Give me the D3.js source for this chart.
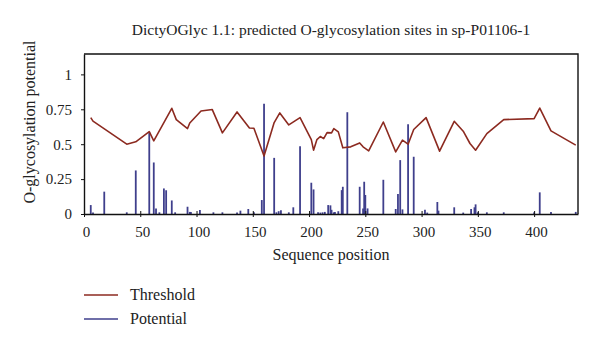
<!DOCTYPE html>
<html lang="en">
    <head>
        <meta charset="utf-8">
        <title>DictyOGlyc chart</title>
        <script type="text/javascript" src="https://cdn.jsdelivr.net/npm/d3@7/dist/d3.min.js"></script>
        <style>
            body { margin: 0; background: #fff; }
            text { font-family: 'Liberation Serif', 'DejaVu Serif', serif; fill: #222; }
        </style>
    </head>
    <body>
        <script type="text/javascript">
            // threshold curve (sequence position -> value)
            var thresholdPos = [6, 8, 38, 46, 58, 62, 78, 82, 92, 94, 104, 114, 123, 136, 147, 151, 160, 169, 174, 182,
                                192, 202, 204, 207, 210, 213, 216, 220, 222, 226, 230, 237, 245, 248, 253, 266, 277, 283,
                                288, 293, 304, 316, 329, 337, 343, 348, 358, 373, 400, 405, 415, 437];
            var thresholdVal = [0.69, 0.665, 0.50, 0.517, 0.59, 0.524, 0.757, 0.676, 0.612, 0.652, 0.738, 0.748, 0.581, 0.731, 0.616, 0.614, 0.416, 0.655, 0.724, 0.638,
                                0.69, 0.533, 0.457, 0.533, 0.555, 0.54, 0.583, 0.581, 0.612, 0.588, 0.474, 0.481, 0.509, 0.481, 0.452, 0.659, 0.445, 0.529,
                                0.50, 0.605, 0.69, 0.45, 0.664, 0.593, 0.505, 0.457, 0.576, 0.676, 0.683, 0.759, 0.595, 0.493];

            // potential bars
            var potentialPos = [6, 8, 18, 38, 46, 58, 62, 64, 67, 71, 73, 78, 81, 92, 94, 95, 103, 115, 123, 136, 139, 146, 151,
                                158, 160, 169, 171, 173, 175, 182, 186, 192, 202, 204, 208, 210, 212, 214, 217, 219, 220, 222,
                                223, 226, 229, 230, 234, 245, 248, 249, 250, 252, 266, 277, 279, 281, 283, 288, 293, 303, 305,
                                314, 315, 329, 337, 344, 347, 348, 350, 358, 373, 400, 405, 415, 437];
            var potentialVal = [0.064, 0.01, 0.16, 0.012, 0.312, 0.588, 0.369, 0.04, 0.012, 0.183, 0.17, 0.097, 0.012, 0.052, 0.015, 0.015, 0.029, 0.012, 0.012, 0.01, 0.024, 0.036, 0.012,
                                0.10, 0.79, 0.402, 0.012, 0.02, 0.026, 0.012, 0.048, 0.486, 0.224, 0.176, 0.012, 0.01, 0.012, 0.015, 0.064, 0.062, 0.03, 0.012,
                                0.015, 0.02, 0.171, 0.195, 0.729, 0.195, 0.04, 0.231, 0.136, 0.04, 0.245, 0.036, 0.143, 0.386, 0.033, 0.643, 0.41, 0.03, 0.01,
                                0.086, 0.024, 0.048, 0.01, 0.036, 0.048, 0.069, 0.012, 0.012, 0.012, 0.012, 0.155, 0.015, 0.015];

            var xTicks = [0, 50, 100, 150, 200, 250, 300, 350, 400];
            var yTicks = [0, 0.25, 0.5, 0.75, 1];
            var seqLength = 439;
            var yMax = 1.146;

            var w = 600;
            var h = 344;
            var plotLeft = 84, plotRight = 578, plotTop = 54, plotBottom = 214;
            var red = '#8c2a20';
            var blue = '#3f3f8c';

            var svg = d3.select('body')
                        .append('svg')
                        .attr('width', w)
                        .attr('height', h);

            var x = d3.scaleLinear().domain([0, seqLength]).range([plotLeft, plotRight]);
            var y = d3.scaleLinear().domain([0, yMax]).range([plotBottom, plotTop]);

            // title
            svg.append('text')
               .attr('x', 331)
               .attr('y', 35)
               .attr('text-anchor', 'middle')
               .attr('font-size', '15.5px')
               .text('DictyOGlyc 1.1: predicted O-glycosylation sites in sp-P01106-1');

            // potential bars
            svg.selectAll('line.bar')
               .data(potentialPos)
               .enter()
               .append('line')
               .attr('class', 'bar')
               .attr('x1', function(d){ return x(d); })
               .attr('x2', function(d){ return x(d); })
               .attr('y1', y(0))
               .attr('y2', function(d, i){ return y(potentialVal[i]); })
               .attr('stroke', blue)
               .attr('stroke-width', 1.8);

            // threshold line
            var line = d3.line()
                         .x(function(d){ return x(d); })
                         .y(function(d, i){ return y(thresholdVal[i]); });
            svg.append('path')
               .attr('d', line(thresholdPos))
               .attr('fill', 'none')
               .attr('stroke', red)
               .attr('stroke-width', 1.6)
               .attr('stroke-linejoin', 'round');

            // axes
            var xAxis = svg.append('g')
               .attr('transform', 'translate(0,' + plotBottom + ')')
               .call(d3.axisBottom(x).tickValues(xTicks).tickSize(3).tickPadding(9).tickSizeOuter(0));
            xAxis.selectAll('.tick line').attr('y1', -3);
            xAxis.selectAll('text').attr('font-size', '15px').attr('font-family', null).attr('dx', 2);

            var yAxis = svg.append('g')
               .attr('transform', 'translate(' + plotLeft + ',0)')
               .call(d3.axisLeft(y).tickValues(yTicks).tickFormat(d3.format('')).tickSize(3).tickPadding(9).tickSizeOuter(0));
            yAxis.selectAll('text').attr('font-size', '15px').attr('font-family', null);

            svg.selectAll('.domain').attr('stroke', '#111').attr('stroke-width', 1.4);
            svg.selectAll('.tick line').attr('stroke', '#111');

            // box top and right
            svg.append('path')
               .attr('d', 'M' + plotLeft + ',' + plotTop + 'H' + plotRight + 'V' + plotBottom)
               .attr('fill', 'none')
               .attr('stroke', '#111')
               .attr('stroke-width', 1.4);

            // axis titles
            svg.append('text')
               .attr('x', 331)
               .attr('y', 260)
               .attr('text-anchor', 'middle')
               .attr('font-size', '16px')
               .text('Sequence position');

            svg.append('text')
               .attr('transform', 'translate(35,' + 122 + ') rotate(-90)')
               .attr('text-anchor', 'middle')
               .attr('font-size', '16px')
               .text('O-glycosylation potential');

            // legend
            var legend = [['Threshold', red], ['Potential', blue]];
            var lg = svg.selectAll('g.legend')
                        .data(legend)
                        .enter()
                        .append('g')
                        .attr('class', 'legend')
                        .attr('transform', function(d, i){ return 'translate(84,' + (295 + i * 24) + ')'; });
            lg.append('line')
              .attr('x1', 0).attr('x2', 34)
              .attr('stroke', function(d){ return d[1]; })
              .attr('stroke-width', 1.4);
            lg.append('text')
              .attr('x', 46)
              .attr('y', 5)
              .attr('font-size', '16px')
              .text(function(d){ return d[0]; });
        </script>
    </body>
</html>
